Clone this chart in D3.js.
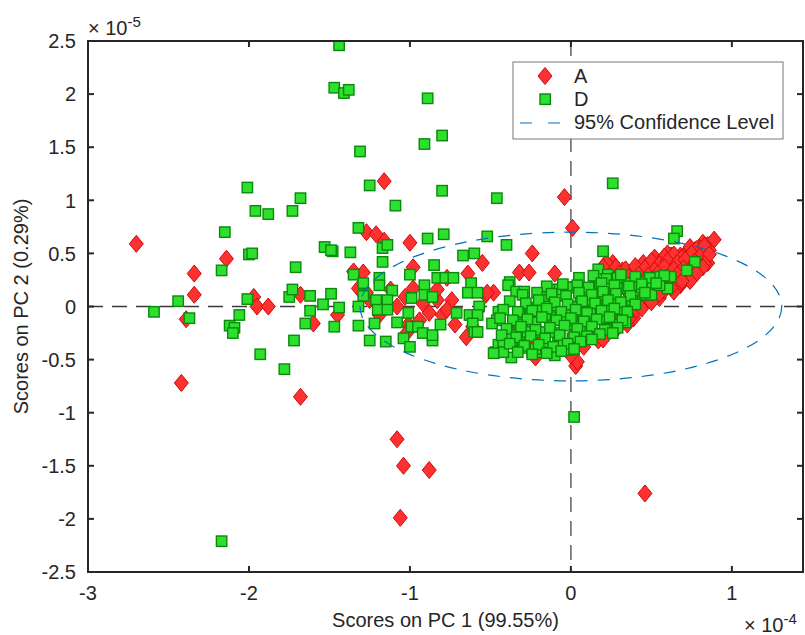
<!DOCTYPE html>
<html>
<head>
<meta charset="utf-8">
<script src="https://cdn.jsdelivr.net/npm/d3@7"></script>
<style>
html,body{margin:0;padding:0;background:#fff;}
svg text{font-family:"Liberation Sans",Arial,Helvetica,sans-serif;fill:#262626;}
</style>
</head>
<body>
<svg id="chart" width="805" height="635"></svg>
<script>
// Scores on PC 1 (units of 1e-4) and PC 2 (units of 1e-5)
const xA = [-2.70,-2.34,-2.34,-2.39,-2.42,-2.14,-1.97,-1.95,-1.88,-1.68,-1.60,-1.45,-1.68,-1.08,-1.04,-0.88,-1.06,0.46,0.03,-1.16,
 -0.04,0.01,-1.00,-1.16,-1.27,-1.21,-0.98,-0.55,-0.24,-0.32,-0.26,-0.10,-1.35,-1.29,-0.65,-0.77,-0.64,-0.48,-0.53,-0.22,
 -1.08,-0.92,-0.88,-0.83,-0.80,-0.74,-1.01,-1.02,-1.03,-0.98,-0.83,-1.25,-1.27,-1.32,-0.61,-0.52,
 0.21,0.26,0.32,0.41,0.43,0.52,0.57,0.62,0.68,0.72,0.82,0.85,0.89,0.86,0.85,0.76,0.68,0.60,0.55,0.41,0.39,0.35,0.20,0.16,
 0.10,0.04,-0.19,-0.25,-0.32,-0.36,-0.34,0.04,0.80,0.77,0.70,0.63,0.60,0.57,0.39,0.22,0.20,0.49,0.41,0.15,0.17,
 0.80,0.70,0.66,0.76,0.52,0.49,0.57,0.62,-0.07,-0.14,0.30,0.46,0.12,0.24,0.34,0.46,0.30,0.74,0.15,0.06,
 -0.77,-0.94,-0.72,-1.12,-1.19,
 0.74,0.78,0.83, 0.58,0.64,0.69,0.75,0.80,0.86, 0.45,0.50,0.55,0.60,0.66,0.71,0.77,0.83,
 0.28,0.34,0.40,0.46,0.52,0.58,0.64,0.70,0.76,0.82, 0.24,0.30,0.36,0.42,0.48,0.54,0.60,0.66,0.72,0.78,
 0.56,0.62,0.68,0.74, 0.52,0.58,0.64,
 -0.12,0.00,0.08,0.20,0.28,0.36,0.44,0.50, 0.55,0.62,0.69];
const yA = [0.59,0.31,0.11,-0.12,-0.72,0.45,0.09,0.00,0.00,0.11,-0.16,-0.08,-0.85,-1.25,-1.50,-1.54,-1.99,-1.76,-0.56,1.18,
 1.03,0.74,0.60,0.62,0.70,0.68,0.37,0.41,0.50,0.32,0.32,0.31,0.33,0.32,-0.29,0.27,0.31,0.13,0.11,-0.48,
 0.00,0.03,-0.06,0.06,-0.08,0.06,-0.17,-0.25,0.09,0.17,0.16,0.06,0.13,0.17,-0.19,0.13,
 0.39,0.41,0.34,0.36,0.37,0.46,0.42,0.48,0.48,0.51,0.60,0.58,0.63,0.53,0.41,0.30,0.20,0.20,0.08,-0.01,-0.11,-0.17,-0.24,-0.27,
 -0.27,-0.32,-0.27,-0.30,-0.27,-0.24,-0.30,-0.52,0.55,0.53,0.47,0.48,0.50,0.41,0.32,0.41,0.37,0.09,-0.03,-0.25,-0.32,
 0.44,0.34,0.25,0.28,0.18,0.34,0.34,0.37,-0.36,-0.41,-0.13,0.06,-0.17,0.06,0.16,0.25,0.25,0.39,0.25,0.16,
 -0.03,-0.13,-0.17,0.16,-0.08,
 0.56,0.54,0.57, 0.47,0.49,0.46,0.50,0.47,0.49, 0.41,0.43,0.40,0.43,0.41,0.44,0.42,0.40,
 0.37,0.35,0.38,0.36,0.34,0.37,0.35,0.36,0.34,0.37, 0.29,0.31,0.28,0.30,0.29,0.31,0.28,0.30,0.29,0.31,
 0.23,0.21,0.22,0.24, 0.13,0.15,0.14,
 -0.42,-0.46,-0.38,-0.31,-0.22,-0.12,-0.02,0.04, 0.12,0.18,0.24];

const xD = [-1.44,-1.47,-1.41,-1.38,-0.89,-0.80,-0.91,-1.31,-2.01,-1.68,-1.96,-1.88,-1.73,-1.25,-0.80,-1.09,-0.46,0.26,-2.15,-1.32,
 -0.79,-0.52,-0.89,-2.59,-2.44,-2.37,-2.17,-2.12,-2.09,-2.10,-1.93,-1.78,-1.72,-2.00,-1.98,-2.01,-2.06,-1.65,-1.71,-1.75,
 -1.73,-1.62,-1.62,-1.54,-1.49,-1.53,-1.48,-1.47,-1.44,-2.17,0.02,-1.25,-1.15,-1.04,-1.00,-0.86,-0.59,-0.47,-0.37,0.20,
 0.66,0.64,-1.17,-1.14,-1.37,-1.49,-0.40,-0.67,-0.60,-1.17,-0.85,-1.35,-1.00,-1.19,-1.19,-1.29,-0.91,-0.83,-0.78,-0.73,
 -0.62,-0.64,-0.58,-1.11,-1.29,-1.21,-1.14,-0.99,-0.91,-0.86,-1.32,-1.20,-1.14,-1.01,-1.08,-0.71,-0.57,-0.63,-0.58,-0.45,
 -0.46,-0.49,-0.32,-0.33,-0.61,-0.60,-1.32,-1.22,-0.99,-0.95,-0.92,-0.86,-0.81,0.17,0.77,0.72,-0.38,-0.39,-0.34,-0.29,
 -0.58,-0.45,-0.42,-0.34,-0.30,-0.24,-0.24,-0.24,-0.19,-0.16,-0.12,-0.10,-0.07,-0.01,0.01,-0.01,-0.01,0.01,-0.01,-0.08,
 -0.16,-0.13,-0.19,-0.06,0.06,0.10,0.06,0.06,0.12,0.15,0.12,0.22,0.22,0.21,0.29,0.29,0.34,0.35,0.38,0.39,
 0.45,0.45,0.50,0.50,0.55,0.62,0.60,0.23,0.29,0.35,0.29,0.18,0.18,0.16,-0.13,-0.07,-0.22,-0.16,-0.21,-0.25,
 -0.32,-0.27,-0.37,-0.42,-0.48,-0.30,0.44,0.29,0.35,0.29,0.29,0.22,0.09,0.01,-0.12,-0.17,-0.15,0.01,0.06,0.12,
 0.12,0.55,-0.10,-0.19,-0.22,-0.30,
 0.05,0.14,0.22,0.31,0.40,0.49,0.58,
 -0.15,-0.05,0.04,0.11,0.19,0.27,0.36,0.44,0.53,
 -0.30,-0.21,-0.12,-0.03,0.05,0.13,0.20,0.28,0.37,0.46,
 -0.38,-0.28,-0.20,-0.10,-0.02,0.07,0.15,0.23,0.31,0.40,
 -0.42,-0.33,-0.24,-0.15,-0.06,0.03,0.10,0.19,0.27,0.35,
 -0.44,-0.36,-0.27,-0.18,-0.09,0.00,0.08,0.16,0.24,0.32,
 -0.40,-0.31,-0.22,-0.13,-0.04,0.04,0.13,0.21,0.29,
 -0.43,-0.34,-0.25,-0.16,-0.07,0.02,0.10,0.18,0.26,
 -0.38,-0.29,-0.20,-0.11,-0.02,0.06,0.13,
 -0.33,-0.24,-0.15,-0.06,0.02];
const yD = [2.46,2.06,2.01,2.04,1.96,1.61,1.53,1.46,1.12,1.02,0.90,0.87,0.90,1.14,1.09,0.95,1.02,1.16,0.70,0.74,
 0.68,0.66,0.64,-0.05,0.05,-0.11,0.34,-0.18,-0.20,-0.25,-0.45,-0.59,-0.32,0.49,0.50,0.07,-0.08,-0.16,0.37,0.09,
 0.16,0.10,-0.04,0.02,0.12,0.56,0.52,-0.19,-0.01,-2.21,-1.04,-0.32,-0.33,-0.30,-0.38,-0.32,-0.24,-0.43,-0.48,0.52,
 0.71,0.64,0.55,0.58,0.51,0.53,0.58,0.48,0.50,0.42,0.39,0.30,0.30,0.27,0.20,0.22,0.20,0.27,0.27,0.27,
 0.22,0.13,0.13,0.15,0.10,0.06,0.06,0.08,0.11,0.09,0.00,-0.03,-0.03,-0.06,-0.15,-0.06,0.00,-0.08,-0.08,-0.05,
 -0.13,-0.16,-0.08,-0.15,-0.16,-0.24,-0.18,-0.16,-0.19,-0.19,-0.25,-0.27,-0.17,0.35,0.42,0.34,0.23,0.20,0.14,0.14,
 -0.24,-0.36,-0.34,-0.32,-0.39,-0.43,-0.25,-0.16,0.00,0.09,0.01,0.16,0.16,0.18,0.00,-0.08,-0.17,-0.30,-0.41,-0.33,
 -0.34,-0.24,-0.24,-0.11,0.09,0.14,-0.08,-0.24,-0.24,-0.11,-0.01,-0.15,0.00,0.11,0.03,-0.16,-0.15,-0.05,0.06,0.20,
 0.23,0.11,0.20,0.11,0.28,0.28,0.17,0.30,0.27,0.22,0.17,0.20,0.11,0.01,-0.10,-0.25,-0.15,-0.08,-0.01,-0.05,
 -0.17,-0.24,-0.27,-0.43,-0.44,-0.34,0.18,0.04,0.17,-0.03,-0.17,-0.11,0.06,0.18,0.09,0.06,0.00,-0.13,-0.19,-0.20,
 -0.05,0.20,-0.46,-0.43,-0.40,-0.36,
 0.27,0.29,0.26,0.30,0.28,0.27,0.29,
 0.19,0.21,0.20,0.18,0.22,0.20,0.19,0.21,0.22,
 0.11,0.13,0.12,0.10,0.13,0.11,0.14,0.12,0.10,0.13,
 0.05,0.03,0.06,0.04,0.02,0.05,0.03,0.06,0.04,0.02,
 -0.03,-0.05,-0.04,-0.02,-0.05,-0.03,-0.06,-0.04,-0.02,-0.05,
 -0.11,-0.13,-0.12,-0.10,-0.13,-0.11,-0.14,-0.12,-0.10,-0.13,
 -0.21,-0.19,-0.22,-0.20,-0.18,-0.21,-0.19,-0.22,-0.20,
 -0.27,-0.29,-0.28,-0.30,-0.27,-0.29,-0.28,-0.26,-0.25,
 -0.35,-0.37,-0.36,-0.38,-0.35,-0.33,-0.31,
 -0.43,-0.45,-0.44,-0.42,-0.40];

const xTicks = [-3,-2,-1,0,1];
const yTicks = [-2.5,-2,-1.5,-1,-0.5,0,0.5,1,1.5,2,2.5];
const xDomain = [-3, 1.442];
const yDomain = [-2.5, 2.5];
const ellipseRadii = [1.31, 0.70]; // 95% confidence limits on PC1, PC2
const seriesNames = ["A","D","95% Confidence Level"];
const xLabel = "Scores on PC 1 (99.55%)";
const yLabel = "Scores on PC 2 (0.29%)";

const svg = d3.select("#chart");
const L = 88, R = 803, T = 41, B = 572;
const x = d3.scaleLinear().domain(xDomain).range([L, R]);
const y = d3.scaleLinear().domain(yDomain).range([B, T]);

const redFill = "#ff3030", redStroke = "#cc0a0a";
const greenFill = "#2ee02e", greenStroke = "#0a8a0a";
const blue = "#0072bd";
const FS = 20;

const plot = svg.append("g");
plot.append("defs").append("clipPath").attr("id","clip")
  .append("rect").attr("x",L).attr("y",T).attr("width",R-L).attr("height",B-T);

// zero lines
plot.append("line").attr("x1",L).attr("x2",R).attr("y1",y(0)).attr("y2",y(0))
  .attr("stroke","#3a3a3a").attr("stroke-width",1.4).attr("stroke-dasharray","15,9");
plot.append("line").attr("x1",x(0)).attr("x2",x(0)).attr("y1",T).attr("y2",B)
  .attr("stroke","#555").attr("stroke-width",1.4).attr("stroke-dasharray","15,9");

const diamond = (cx,cy)=>`M${cx},${cy-8.5}L${cx+7},${cy}L${cx},${cy+8.5}L${cx-7},${cy}Z`;

const gA = plot.append("g").attr("clip-path","url(#clip)");
gA.selectAll("path").data(d3.range(xA.length)).join("path")
  .attr("d", i => diamond(x(xA[i]), y(yA[i])))
  .attr("fill", redFill).attr("stroke", redStroke).attr("stroke-width",1);

const gD = plot.append("g").attr("clip-path","url(#clip)");
gD.selectAll("rect").data(d3.range(xD.length)).join("rect")
  .attr("x", i => x(xD[i]) - 5.2).attr("y", i => y(yD[i]) - 5.2)
  .attr("width",10.4).attr("height",10.4)
  .attr("fill", greenFill).attr("stroke", greenStroke).attr("stroke-width",1.4);

// confidence ellipse
plot.append("ellipse").attr("cx",x(0)).attr("cy",y(0))
  .attr("rx", x(ellipseRadii[0]) - x(0)).attr("ry", y(0) - y(ellipseRadii[1]))
  .attr("fill","none").attr("stroke",blue).attr("stroke-width",1.2).attr("stroke-dasharray","12,10");

// axes box
const axisColor = "#262626";
svg.append("rect").attr("x",L).attr("y",T).attr("width",R-L).attr("height",B-T)
  .attr("fill","none").attr("stroke",axisColor).attr("stroke-width",2);

const tl = 6;
xTicks.forEach(t=>{
  svg.append("line").attr("x1",x(t)).attr("x2",x(t)).attr("y1",B).attr("y2",B-tl).attr("stroke",axisColor).attr("stroke-width",2);
  svg.append("line").attr("x1",x(t)).attr("x2",x(t)).attr("y1",T).attr("y2",T+tl).attr("stroke",axisColor).attr("stroke-width",2);
  svg.append("text").attr("x",x(t)).attr("y",600).attr("text-anchor","middle")
    .attr("font-size",FS).text(t);
});
yTicks.forEach(t=>{
  svg.append("line").attr("x1",L).attr("x2",L+tl).attr("y1",y(t)).attr("y2",y(t)).attr("stroke",axisColor).attr("stroke-width",2);
  svg.append("line").attr("x1",R).attr("x2",R-tl).attr("y1",y(t)).attr("y2",y(t)).attr("stroke",axisColor).attr("stroke-width",2);
  svg.append("text").attr("x",76).attr("y",y(t)).attr("dy","0.36em").attr("text-anchor","end")
    .attr("font-size",FS).text(t);
});

// exponent labels
const e1 = svg.append("text").attr("x",88).attr("y",35).attr("font-size",FS);
e1.append("tspan").text("\u00d7 10");
e1.append("tspan").attr("dy",-8).attr("font-size",15).text("-5");
const e2 = svg.append("text").attr("x",744).attr("y",632).attr("font-size",FS);
e2.append("tspan").text("\u00d7 10");
e2.append("tspan").attr("dy",-8).attr("font-size",15).text("-4");

// axis labels
svg.append("text").attr("x",(L+R)/2).attr("y",627).attr("text-anchor","middle")
  .attr("font-size",FS).text(xLabel);
svg.append("text").attr("transform",`translate(28,${(T+B)/2}) rotate(-90)`)
  .attr("text-anchor","middle").attr("font-size",FS).text(yLabel);

// legend
const lg = svg.append("g");
lg.append("rect").attr("x",513).attr("y",62).attr("width",270).attr("height",77)
  .attr("fill","#fff").attr("stroke","#777").attr("stroke-width",1);
lg.append("path").attr("d",diamond(545,76)).attr("fill",redFill).attr("stroke",redStroke);
lg.append("rect").attr("x",540).attr("y",94).attr("width",10.4).attr("height",10.4)
  .attr("fill",greenFill).attr("stroke",greenStroke).attr("stroke-width",1.4);
lg.append("line").attr("x1",520).attr("x2",563).attr("y1",123).attr("y2",123)
  .attr("stroke",blue).attr("stroke-width",1.2).attr("stroke-dasharray","12,16");
[76,99,122].forEach((yy,i)=>{
  lg.append("text").attr("x",574).attr("y",yy).attr("dy","0.36em").attr("font-size",FS).text(seriesNames[i]);
});
</script>
</body>
</html>
